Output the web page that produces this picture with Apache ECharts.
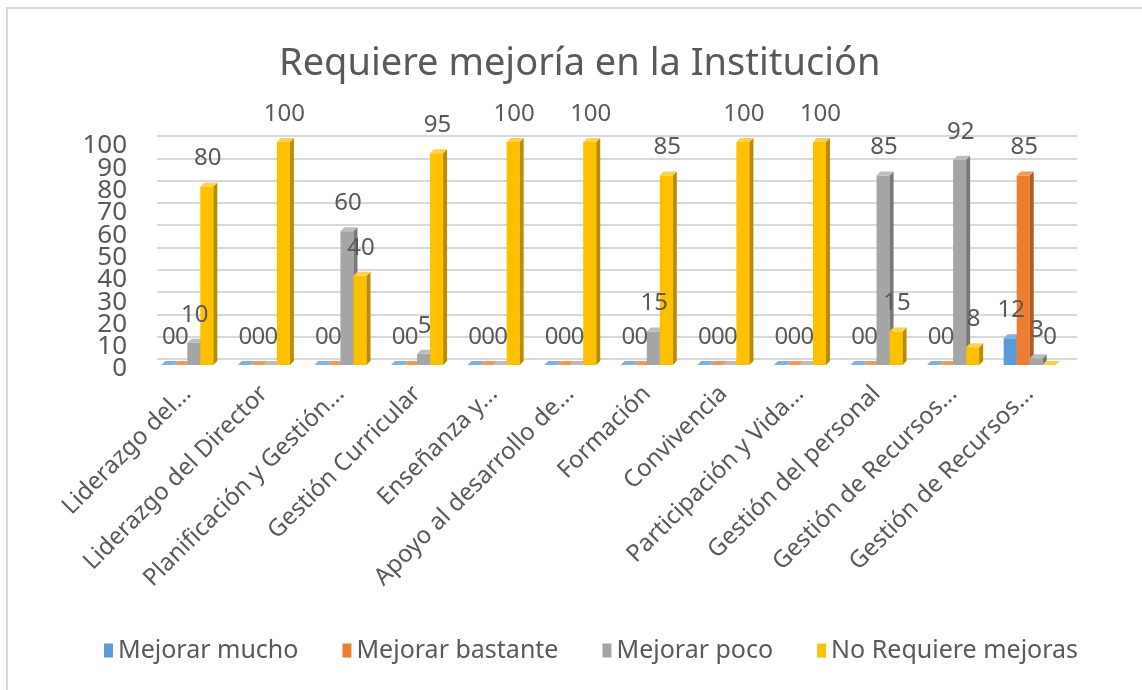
<!DOCTYPE html>
<html lang="es">
<head>
<meta charset="UTF-8">
<script src="https://cdn.jsdelivr.net/npm/echarts@6/dist/echarts.min.js"></script>
<style>
  html, body { margin: 0; padding: 0; background: #fff; overflow: hidden; }
  #frame { position: absolute; left: 6px; top: 7px; width: 1160px; height: 700px; border: 2px solid #d9d9d9; box-sizing: border-box; }
  #chart { position: absolute; left: 0; top: 0; width: 1142px; height: 690px; }
</style>
</head>
<body>
<div id="frame"></div>
<div id="chart"></div>
<script>
// categorias (tal como aparecen recortadas en el gráfico)
var categorias = ['Liderazgo del...', 'Liderazgo del Director', 'Planificación y Gestión...',
  'Gestión Curricular', 'Enseñanza y...', 'Apoyo al desarrollo de...', 'Formación',
  'Convivencia', 'Participación y Vida...', 'Gestión del personal',
  'Gestión de Recursos...', 'Gestión de Recursos...'];
var mejorarMucho     = [0, 0, 0, 0, 0, 0, 0, 0, 0, 0, 0, 12];
var mejorarBastante  = [0, 0, 0, 0, 0, 0, 0, 0, 0, 0, 0, 85];
var mejorarPoco      = [10, 0, 60, 5, 0, 0, 15, 0, 0, 85, 92, 3];
var noRequiere       = [80, 100, 40, 95, 100, 100, 85, 100, 100, 15, 8, 0];
var ticksY = [0, 10, 20, 30, 40, 50, 60, 70, 80, 90, 100];

var FONT = '"Noto Sans", sans-serif';
var TXT = '#595959';

var series = [
  { name: 'Mejorar mucho', data: mejorarMucho, color: '#5B9BD5', side: '#41719C', top: '#7EB2E0' },
  { name: 'Mejorar bastante', data: mejorarBastante, color: '#ED7D31', side: '#AE5A21', top: '#F19A5E' },
  { name: 'Mejorar poco', data: mejorarPoco, color: '#A5A5A5', side: '#787878', top: '#BDBDBD' },
  { name: 'No Requiere mejoras', data: noRequiere, color: '#FFC000', side: '#BC8C00', top: '#FFD04D' }
];

function makeRender(s) {
  return function (params, api) {
    var idx = api.value(0), val = api.value(1);
    var c = api.coord([idx, val]);
    var base = api.coord([idx, 0]);
    var band = api.size([1, 0])[0];
    var groupW = band * 0.68;
    var w = groupW / 4;
    var x0 = c[0] - groupW / 2 + s * w;
    var top = c[1], bot = base[1];
    var d = 4;
    var it = series[s];
    return {
      type: 'group',
      children: [
        { type: 'rect', shape: { x: x0, y: top, width: w, height: bot - top }, style: { fill: it.color } },
        { type: 'polygon', shape: { points: [[x0 + w, top], [x0 + w + d, top - d], [x0 + w + d, bot - d], [x0 + w, bot]] }, style: { fill: it.side } },
        { type: 'polygon', shape: { points: [[x0, top], [x0 + d, top - d], [x0 + w + d, top - d], [x0 + w, top]] }, style: { fill: it.top } },
        { type: 'text', z2: 10, style: { text: String(val), x: x0 + w / 2 + 1, y: top - 28, align: 'center', verticalAlign: 'middle', font: '24px ' + FONT, fill: TXT } }
      ]
    };
  };
}

// etiquetas del eje Y repartidas en dos ejes (pares e impares) para que no se oculten
function labelY(v) { return ticksY.indexOf(v) >= 0 ? String(v) : ''; }
var yLabelStyle = { margin: 22, fontFamily: FONT, fontSize: 26, color: TXT, hideOverlap: false, formatter: labelY };
var unit = 223 / 100;   // px por unidad del eje frontal

var chart = echarts.init(document.getElementById('chart'), null, { renderer: 'canvas' });
chart.setOption({
  backgroundColor: 'transparent',
  animation: false,
  title: {
    text: 'Requiere mejoría en la Institución',
    left: 274, top: 40,
    textStyle: { fontFamily: FONT, fontSize: 38, fontWeight: 'normal', color: TXT }
  },
  legend: {
    bottom: 22, left: 99,
    itemWidth: 9, itemHeight: 14, itemGap: 44,
    icon: 'rect',
    textStyle: { fontFamily: FONT, fontSize: 25, color: TXT },
    data: series.map(function (s) { return { name: s.name, itemStyle: { color: s.color } }; })
  },
  grid: [
    { left: 149, right: 74, top: 142, bottom: 325 },
    { left: 157, right: 65, top: 136, bottom: 331 },
    { left: 149, right: 74, top: 146, bottom: 321 },
    { left: 149, right: 74, top: 146 - 10 * unit, bottom: 321 - 10 * unit }
  ],
  xAxis: [
    {
      type: 'category', gridIndex: 0, data: categorias,
      axisLine: { show: false }, axisTick: { show: false },
      axisLabel: { interval: 0, rotate: 45, margin: 25, fontFamily: FONT, fontSize: 24, color: TXT }
    },
    { type: 'category', gridIndex: 1, data: categorias, show: false },
    { type: 'category', gridIndex: 2, data: categorias, show: false },
    { type: 'category', gridIndex: 3, data: categorias, show: false }
  ],
  yAxis: [
    {
      type: 'value', gridIndex: 0, min: 0, max: 100, interval: 10,
      axisLine: { show: false }, axisTick: { show: false }, splitLine: { show: false },
      axisLabel: { show: false }
    },
    {
      type: 'value', gridIndex: 1, min: 0, max: 100, interval: 10,
      axisLine: { show: false }, axisTick: { show: false }, axisLabel: { show: false },
      splitLine: { show: true, lineStyle: { color: '#d9d9d9', width: 2 } }
    },
    {
      type: 'value', gridIndex: 2, min: 0, max: 100, interval: 20,
      axisLine: { show: false }, axisTick: { show: false }, splitLine: { show: false },
      axisLabel: Object.assign({ showMinLabel: true, showMaxLabel: true }, yLabelStyle)
    },
    {
      type: 'value', gridIndex: 3, min: -10, max: 110, interval: 20,
      axisLine: { show: false }, axisTick: { show: false }, splitLine: { show: false },
      axisLabel: yLabelStyle
    }
  ],
  series: series.map(function (s, i) {
    return {
      type: 'custom', name: s.name,
      xAxisIndex: 0, yAxisIndex: 0,
      itemStyle: { color: s.color },
      renderItem: makeRender(i),
      data: s.data.map(function (v, k) { return [k, v]; }),
      z: 2
    };
  })
});
</script>
</body>
</html>
